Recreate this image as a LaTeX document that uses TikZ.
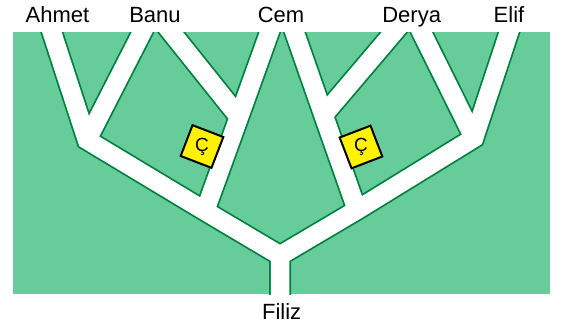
\documentclass[tikz,border=0pt]{standalone}
\usepackage{fontspec}
\setmainfont{Liberation Sans}
\usepackage{xcolor}
\usepackage{tikz}
\usetikzlibrary{calc}
\definecolor{field}{RGB}{102,204,153}
\definecolor{hedge}{RGB}{0,128,64}

\begin{document}
\begin{tikzpicture}[
  x=1pt, y=-1pt,
  person/.style={font=\fontsize{22}{26}\selectfont, anchor=base, inner sep=0pt},
  roadedge/.style={draw=hedge, line width=22pt, line join=miter},
  road/.style={draw=white, line width=18.5pt, line join=miter},
  sign/.style={draw=black, line width=2pt, fill=yellow, minimum size=33pt, inner sep=0pt, font=\fontsize{19}{21}\selectfont}
]
\useasboundingbox (0,0) rectangle (564,325);
\fill[field] (13,32) rectangle (550,294);
\coordinate (ahmetTop) at (47.9,20);
\coordinate (banuL) at (148.4,20);
\coordinate (banuR) at (161.4,20);
\coordinate (cemL) at (273.8,20);
\coordinate (cemR) at (290.3,20);
\coordinate (deryaL) at (404.2,20);
\coordinate (deryaR) at (415.5,20);
\coordinate (elifTop) at (513,20);
\coordinate (filizBot) at (280,305);
\coordinate (j0) at (280,255.5);
\coordinate (j1) at (87,140);
\coordinate (j2) at (474,138);
\coordinate (j3) at (239,117);
\coordinate (j4) at (205,211);
\coordinate (j5) at (323.5,115);
\coordinate (j6) at (357,210);
\begin{scope}
\clip (13,32) rectangle (550,294);
\draw[roadedge] (ahmetTop) -- (j1) -- (j4) -- (j0) -- (filizBot);
\draw[roadedge] (elifTop) -- (j2) -- (j6) -- (j0);
\draw[roadedge] (banuL) -- (j1);
\draw[roadedge] (banuR) -- (j3);
\draw[roadedge] (cemL) -- (j3) -- (j4);
\draw[roadedge] (cemR) -- (j5) -- (j6);
\draw[roadedge] (deryaL) -- (j5);
\draw[roadedge] (deryaR) -- (j2);
\draw[road] (ahmetTop) -- (j1) -- (j4) -- (j0) -- (filizBot);
\draw[road] (elifTop) -- (j2) -- (j6) -- (j0);
\draw[road] (banuL) -- (j1);
\draw[road] (banuR) -- (j3);
\draw[road] (cemL) -- (j3) -- (j4);
\draw[road] (cemR) -- (j5) -- (j6);
\draw[road] (deryaL) -- (j5);
\draw[road] (deryaR) -- (j2);
\end{scope}
\node[sign, rotate=-21] (signL) at (202,146.5) {\rotatebox{21}{Ç}};
\node[sign, rotate=21] (signR) at (361,147) {\rotatebox{-21}{Ç}};
\node[person] (ahmet) at (57.5,22.7) {Ahmet};
\node[person] (banu) at (155,22.7) {Banu};
\node[person] (cem) at (281,22.7) {Cem};
\node[person] (derya) at (411.7,22.7) {Derya};
\node[person] (elif) at (509,22.7) {Elif};
\node[person] (filiz) at (281.7,319.3) {Filiz};
\end{tikzpicture}
\end{document}
